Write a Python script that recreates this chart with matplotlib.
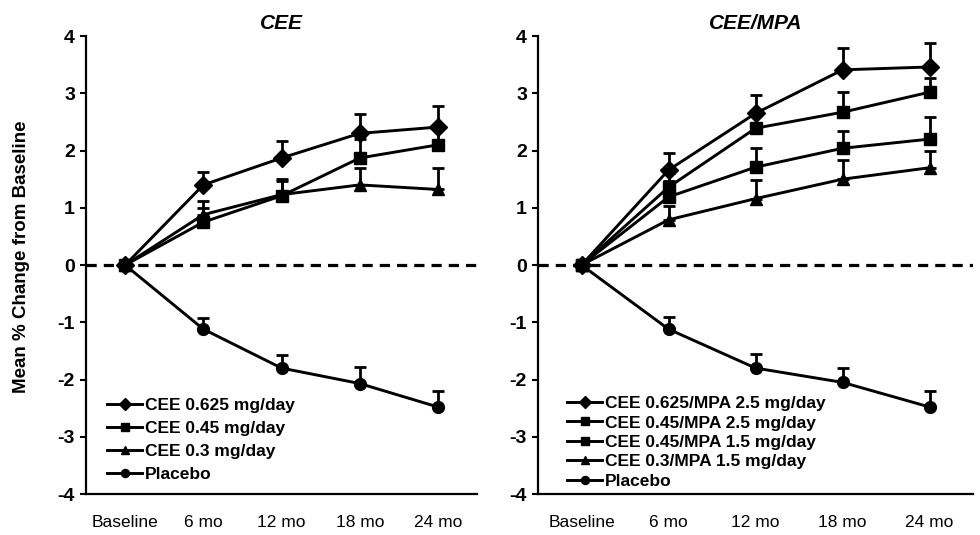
"""
CEE / CEE-MPA: 기간별 평균 % 변화 (baseline 대비)
"""
import matplotlib
matplotlib.use("Agg")
import matplotlib.pyplot as plt

plt.rcParams["font.family"] = ["Liberation Sans", "DejaVu Sans"]

timepoints = ["Baseline", "6 mo", "12 mo", "18 mo", "24 mo"]

# 왼쪽 패널: CEE
cee_labels = ["CEE 0.625 mg/day", "CEE 0.45 mg/day", "CEE 0.3 mg/day", "Placebo"]
cee_means = [
    [0, 1.40, 1.87, 2.30, 2.41],
    [0, 0.75, 1.21, 1.87, 2.10],
    [0, 0.88, 1.23, 1.40, 1.32],
    [0, -1.12, -1.80, -2.07, -2.48],
]
cee_err = [
    [0, 0.23, 0.29, 0.33, 0.37],
    [0, 0.25, 0.30, 0.33, 0.30],
    [0, 0.24, 0.24, 0.30, 0.37],
    [0, 0.20, 0.23, 0.29, 0.28],
]

# 오른쪽 패널: CEE/MPA
mpa_labels = ["CEE 0.625/MPA 2.5 mg/day", "CEE 0.45/MPA 2.5 mg/day",
              "CEE 0.45/MPA 1.5 mg/day", "CEE 0.3/MPA 1.5 mg/day", "Placebo"]
mpa_means = [
    [0, 1.66, 2.65, 3.41, 3.46],
    [0, 1.36, 2.39, 2.67, 3.02],
    [0, 1.19, 1.71, 2.04, 2.20],
    [0, 0.79, 1.16, 1.50, 1.70],
    [0, -1.12, -1.80, -2.05, -2.48],
]
mpa_err = [
    [0, 0.30, 0.32, 0.38, 0.42],
    [0, 0.25, 0.28, 0.35, 0.25],
    [0, 0.28, 0.33, 0.30, 0.39],
    [0, 0.25, 0.32, 0.33, 0.30],
    [0, 0.22, 0.25, 0.25, 0.28],
]

cee_markers = ["D", "s", "^", "o"]
mpa_markers = ["D", "s", "s", "^", "o"]

fig = plt.figure(figsize=(9.8, 5.35), dpi=100)
ax_l = fig.add_axes([0.0878, 0.0766, 0.399, 0.856])
ax_r = fig.add_axes([0.549, 0.0766, 0.444, 0.856])

x = list(range(len(timepoints)))


def draw_panel(ax, labels, means, errs, markers, title, spacing, anchor):
    ax.axhline(0, color="black", lw=2.3, dashes=(3.2, 2.2), zorder=1)
    for lab, m, e, mk in zip(labels, means, errs, markers):
        ms = 9.5 if mk == "D" else 8.5
        ax.errorbar(x, m, yerr=[[0] * len(e), e], color="black", lw=2.1,
                    marker=mk, ms=ms, mfc="black", mec="black",
                    elinewidth=2, capsize=4.5, capthick=2, label=lab, zorder=3)
    ax.set_xlim(-0.5, 4.5)
    ax.set_ylim(-4, 4)
    ax.set_yticks(range(-4, 5))
    ax.set_yticklabels([str(v) for v in range(-4, 5)],
                       fontsize=14, fontweight="bold")
    ax.set_xticks(x)
    ax.set_xticklabels(timepoints, fontsize=12.5)
    ax.tick_params(axis="x", length=0, pad=15)
    ax.tick_params(axis="y", length=4, width=1.5, direction="out", pad=4)
    for s in ["top", "right"]:
        ax.spines[s].set_visible(False)
    for s in ["left", "bottom"]:
        ax.spines[s].set_linewidth(1.6)
    ax.set_title(title, fontsize=15, fontweight="bold", style="italic", pad=5)

    handles, labs = ax.get_legend_handles_labels()
    handles = [h[0] for h in handles]
    leg = ax.legend(handles, labs, loc="lower left", bbox_to_anchor=anchor,
                    frameon=False, fontsize=12.5, handlelength=2.0,
                    handletextpad=0.2, labelspacing=spacing, borderpad=0,
                    borderaxespad=0, markerscale=0.68)
    for t in leg.get_texts():
        t.set_fontweight("bold")


draw_panel(ax_l, cee_labels, cee_means, cee_err, cee_markers, "CEE",
           0.46, (0.054, 0.026))
draw_panel(ax_r, mpa_labels, mpa_means, mpa_err, mpa_markers, "CEE/MPA",
           0.25, (0.067, 0.011))

fig.text(0.022, 0.52, "Mean % Change from Baseline", rotation=90,
         ha="center", va="center", fontsize=13.5, fontweight="bold")

fig.savefig("out.png", dpi=100)
plt.close(fig)
